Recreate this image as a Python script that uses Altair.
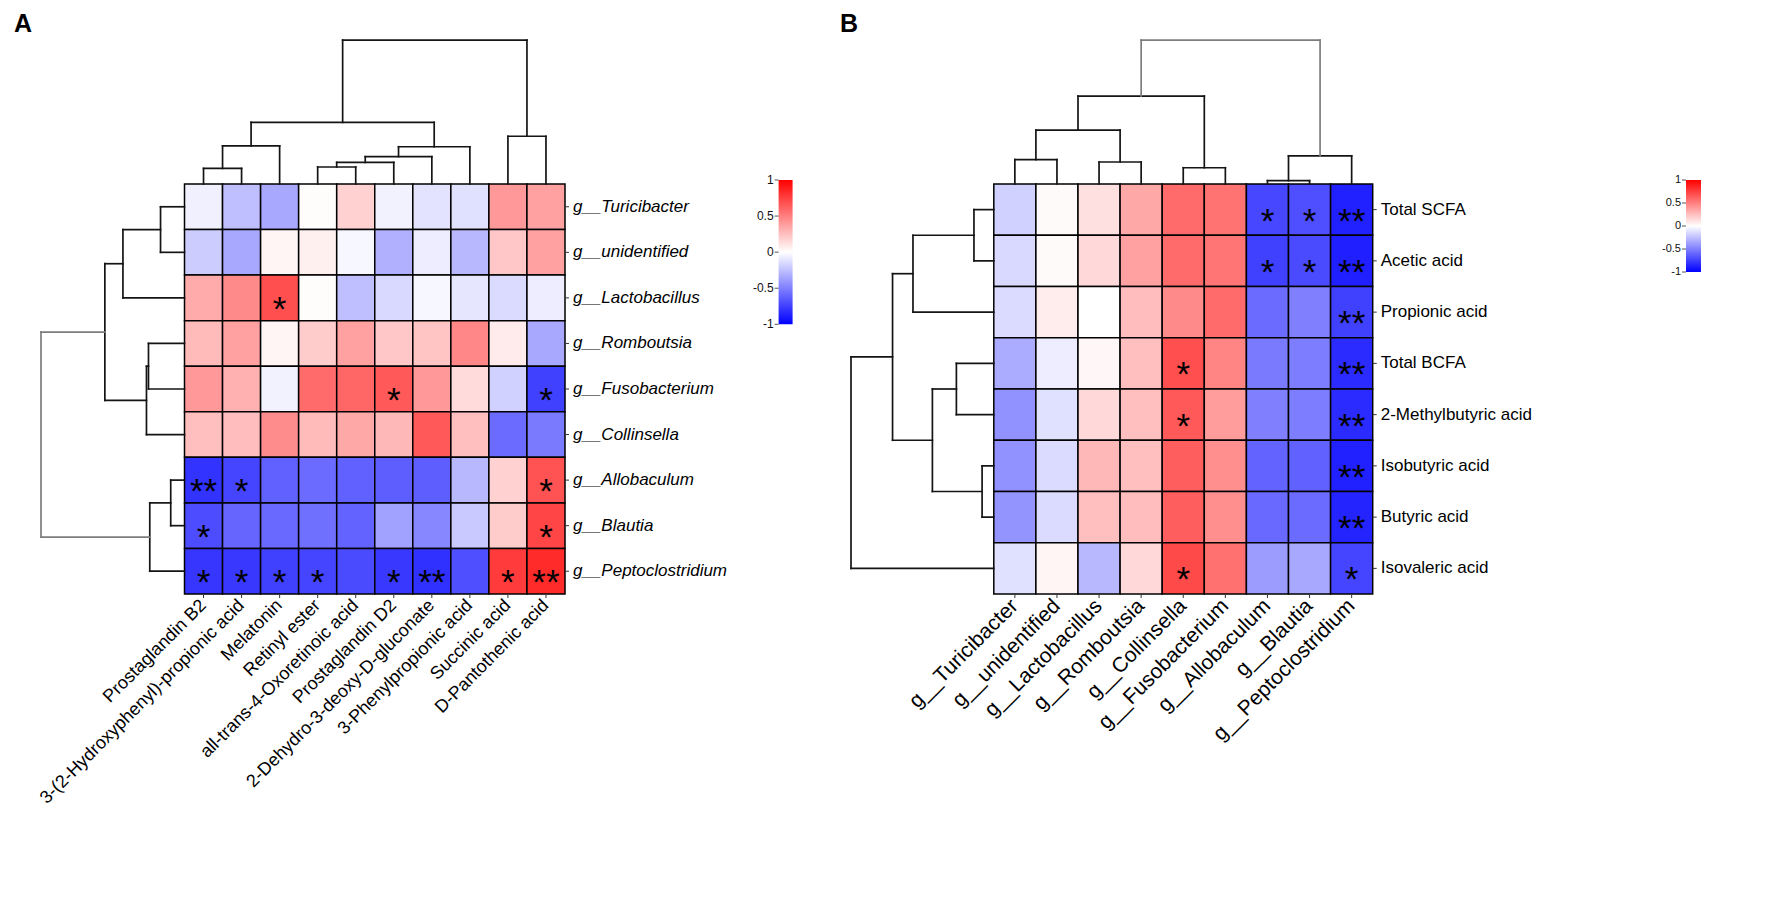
import altair as alt
import pandas as pd

FONT = "Liberation Sans"

# ---------------- data ----------------
A_cols = ["Prostaglandin B2", "3-(2-Hydroxyphenyl)-propionic acid", "Melatonin", "Retinyl ester",
          "all-trans-4-Oxoretinoic acid", "Prostaglandin D2", "2-Dehydro-3-deoxy-D-gluconate",
          "3-Phenylpropionic acid", "Succinic acid", "D-Pantothenic acid"]
A_rows = ["g__Turicibacter", "g__unidentified", "g__Lactobacillus", "g__Romboutsia",
          "g__Fusobacterium", "g__Collinsella", "g__Allobaculum", "g__Blautia",
          "g__Peptoclostridium"]
A_vals = [
    [-0.06, -0.25, -0.34, 0.01, 0.18, -0.05, -0.11, -0.12, 0.40, 0.37],
    [-0.20, -0.34, 0.04, 0.06, -0.03, -0.31, -0.07, -0.28, 0.22, 0.37],
    [0.33, 0.46, 0.69, 0.01, -0.25, -0.15, -0.03, -0.10, -0.14, -0.07],
    [0.27, 0.37, 0.04, 0.20, 0.37, 0.22, 0.23, 0.47, 0.08, -0.34],
    [0.40, 0.31, -0.05, 0.58, 0.60, 0.65, 0.40, 0.14, -0.18, -0.75],
    [0.25, 0.26, 0.45, 0.27, 0.34, 0.28, 0.65, 0.25, -0.58, -0.52],
    [-0.80, -0.73, -0.62, -0.58, -0.62, -0.63, -0.63, -0.28, 0.18, 0.68],
    [-0.70, -0.60, -0.59, -0.56, -0.61, -0.37, -0.47, -0.21, 0.20, 0.73],
    [-0.79, -0.78, -0.75, -0.73, -0.71, -0.78, -0.81, -0.69, 0.77, 0.83],
]
A_stars = [
    ["", "", "", "", "", "", "", "", "", ""],
    ["", "", "", "", "", "", "", "", "", ""],
    ["", "", "*", "", "", "", "", "", "", ""],
    ["", "", "", "", "", "", "", "", "", ""],
    ["", "", "", "", "", "*", "", "", "", "*"],
    ["", "", "", "", "", "", "", "", "", ""],
    ["**", "*", "", "", "", "", "", "", "", "*"],
    ["*", "", "", "", "", "", "", "", "", "*"],
    ["*", "*", "*", "*", "", "*", "**", "", "*", "**"],
]
# linkage: (child a, child b, distance); leaves are 0..n-1, merged clusters n, n+1, ...
A_col_merges = [(0, 1, 0.108), (10, 2, 0.265), (3, 4, 0.118), (12, 5, 0.150), (13, 6, 0.190),
                (14, 7, 0.259), (11, 15, 0.428), (8, 9, 0.332), (16, 17, 1.0)]
A_row_merges = [(0, 1, 0.167), (9, 2, 0.429), (3, 4, 0.251), (11, 5, 0.265), (10, 12, 0.555),
                (6, 7, 0.096), (14, 8, 0.242), (13, 15, 1.0)]

B_cols = ["g__Turicibacter", "g__unidentified", "g__Lactobacillus", "g__Romboutsia",
          "g__Collinsella", "g__Fusobacterium", "g__Allobaculum", "g__Blautia",
          "g__Peptoclostridium"]
B_rows = ["Total SCFA", "Acetic acid", "Propionic acid", "Total BCFA", "2-Methylbutyric acid",
          "Isobutyric acid", "Butyric acid", "Isovaleric acid"]
B_vals = [
    [-0.18, 0.02, 0.12, 0.34, 0.58, 0.55, -0.72, -0.69, -0.87],
    [-0.15, 0.02, 0.15, 0.37, 0.58, 0.54, -0.75, -0.71, -0.88],
    [-0.14, 0.07, 0.00, 0.26, 0.46, 0.58, -0.58, -0.50, -0.75],
    [-0.33, -0.07, 0.03, 0.25, 0.69, 0.48, -0.52, -0.51, -0.83],
    [-0.43, -0.12, 0.15, 0.25, 0.65, 0.39, -0.50, -0.51, -0.83],
    [-0.43, -0.14, 0.28, 0.25, 0.63, 0.44, -0.61, -0.62, -0.87],
    [-0.42, -0.14, 0.25, 0.26, 0.63, 0.44, -0.59, -0.58, -0.86],
    [-0.12, 0.04, -0.28, 0.15, 0.71, 0.56, -0.39, -0.34, -0.73],
]
B_stars = [
    ["", "", "", "", "", "", "*", "*", "**"],
    ["", "", "", "", "", "", "*", "*", "**"],
    ["", "", "", "", "", "", "", "", "**"],
    ["", "", "", "", "*", "", "", "", "**"],
    ["", "", "", "", "*", "", "", "", "**"],
    ["", "", "", "", "", "", "", "", "**"],
    ["", "", "", "", "", "", "", "", "**"],
    ["", "", "", "", "*", "", "", "", "*"],
]
B_col_merges = [(0, 1, 0.170), (2, 3, 0.153), (9, 10, 0.375), (4, 5, 0.113), (11, 12, 0.611),
                (6, 7, 0.023), (14, 8, 0.196), (13, 15, 1.0)]
B_row_merges = [(0, 1, 0.139), (8, 2, 0.566), (3, 4, 0.262), (5, 6, 0.082), (10, 11, 0.430),
                (9, 12, 0.709), (13, 7, 1.0)]

cbar_ticks = [1, 0.5, 0, -0.5, -1]
cbar_labels = ["1", "0.5", "0", "-0.5", "-1"]

# ---------------- layout (pixels in the chart) ----------------
W, H = 1764, 904
HEAT_Y = [176.0, 586.0]
CSCALE = alt.Scale(domain=[-1, 0, 1], range=["#0000ff", "#ffffff", "#ff0000"], interpolate="rgb")
GRAD = alt.LinearGradient(
    gradient="linear", x1=0, y1=0, x2=0, y2=1,
    stops=[alt.GradientStop(color="#ff0000", offset=0),
           alt.GradientStop(color="#ffffff", offset=0.5),
           alt.GradientStop(color="#0000ff", offset=1)])
LINE = "#141414"
GRAY = "#7d7d7d"


def heat_layer(cols, rows, vals, stars, xr, row_style, row_fs, col_fs):
    cells = pd.DataFrame([{"row": r, "col": c, "v": vals[i][j], "star": stars[i][j]}
                          for i, r in enumerate(rows) for j, c in enumerate(cols)])
    xs = alt.Scale(type="band", domain=cols, range=xr, paddingInner=0, paddingOuter=0)
    ys = alt.Scale(type="band", domain=rows, range=HEAT_Y, paddingInner=0, paddingOuter=0)
    X = alt.X("col:N", scale=xs, axis=None)
    Y = alt.Y("row:N", scale=ys, axis=None)
    rect = alt.Chart(cells).mark_rect(stroke="black", strokeWidth=1.5).encode(
        x=X, y=Y, color=alt.Color("v:Q", scale=CSCALE, legend=None))
    star = alt.Chart(cells[cells.star != ""]).mark_text(
        font=FONT, fontSize=35, baseline="alphabetic", dy=23, color="black").encode(
        x=X, y=Y, text="star:N")
    rdf = pd.DataFrame({"row": rows})
    cdf = pd.DataFrame({"col": cols})
    rowlab = alt.Chart(rdf).mark_text(
        font=FONT, fontSize=row_fs, align="left", baseline="middle", fontStyle=row_style,
        color="black").encode(y=Y, x=alt.value(xr[1] + 8), text="row:N")
    rowtick = alt.Chart(rdf).mark_rule(color="#333333", strokeWidth=1).encode(
        y=Y, x=alt.value(xr[1]), x2=alt.value(xr[1] + 4))
    collab = alt.Chart(cdf).mark_text(
        font=FONT, fontSize=col_fs, align="right", baseline="middle", angle=315,
        color="black").encode(x=X, y=alt.value(HEAT_Y[1] + 9), text="col:N")
    coltick = alt.Chart(cdf).mark_rule(color="#333333", strokeWidth=1).encode(
        x=X, y=alt.value(HEAT_Y[1]), y2=alt.value(HEAT_Y[1] + 4))
    return alt.layer(rect, star, rowlab, rowtick, collab, coltick)


def dendro_segments(n, merges, gray_root):
    pos = {i: i + 0.5 for i in range(n)}
    hgt = {i: 0.0 for i in range(n)}
    segs = []
    for k, (a, b, h) in enumerate(merges):
        root = gray_root and (k == len(merges) - 1)
        segs.append(dict(p1=pos[a], p2=pos[b], h1=h, h2=h, root=root))
        segs.append(dict(p1=pos[a], p2=pos[a], h1=hgt[a], h2=h, root=root))
        segs.append(dict(p1=pos[b], p2=pos[b], h1=hgt[b], h2=h, root=root))
        pos[n + k] = (pos[a] + pos[b]) / 2
        hgt[n + k] = h
    return pd.DataFrame(segs)


def top_dendro(n, merges, xr, root_y, gray_root):
    df = dendro_segments(n, merges, gray_root)
    return alt.Chart(df).mark_rule(strokeWidth=1.7, strokeCap="square").encode(
        x=alt.X("p1:Q", scale=alt.Scale(domain=[0, n], range=xr, nice=False, zero=False), axis=None),
        x2="p2:Q",
        y=alt.Y("h1:Q", scale=alt.Scale(domain=[0, 1], range=[HEAT_Y[0], root_y], nice=False,
                                        zero=False), axis=None),
        y2="h2:Q",
        color=alt.condition("datum.root", alt.value(GRAY), alt.value(LINE)))


def left_dendro(n, merges, x0, root_x, gray_root):
    df = dendro_segments(n, merges, gray_root)
    return alt.Chart(df).mark_rule(strokeWidth=1.7, strokeCap="square").encode(
        y=alt.Y("p1:Q", scale=alt.Scale(domain=[0, n], range=HEAT_Y, nice=False, zero=False), axis=None),
        y2="p2:Q",
        x=alt.X("h1:Q", scale=alt.Scale(domain=[0, 1], range=[x0, root_x], nice=False,
                                        zero=False), axis=None),
        x2="h2:Q",
        color=alt.condition("datum.root", alt.value(GRAY), alt.value(LINE)))


def colorbar(cx, cy, fs):
    ys = alt.Scale(domain=[-1, 1], range=[cy[1], cy[0]], nice=False, zero=False)
    bar = alt.Chart(pd.DataFrame({"lo": [-1], "hi": [1]})).mark_rect(color=GRAD).encode(
        y=alt.Y("lo:Q", scale=ys, axis=None), y2="hi:Q",
        x=alt.value(cx[0]), x2=alt.value(cx[1]))
    tdf = pd.DataFrame({"v": cbar_ticks, "lab": cbar_labels})
    tick = alt.Chart(tdf).mark_rule(color="#555555", strokeWidth=1).encode(
        y=alt.Y("v:Q", scale=ys, axis=None), x=alt.value(cx[0] - 4), x2=alt.value(cx[0]))
    lab = alt.Chart(tdf).mark_text(font=FONT, fontSize=fs, align="right", baseline="middle",
                                   color="#111111").encode(
        y=alt.Y("v:Q", scale=ys, axis=None), x=alt.value(cx[0] - 5), text="lab:N")
    return alt.layer(bar, tick, lab)


def letter(t, x, y):
    return alt.Chart(pd.DataFrame({"t": [t]})).mark_text(
        font=FONT, fontSize=25, fontWeight="bold", align="left", baseline="alphabetic",
        color="black").encode(x=alt.value(x), y=alt.value(y), text="t:N")


A_X = [176.5, 557.0]
B_X = [985.8, 1364.7]

layers = [
    heat_layer(A_cols, A_rows, A_vals, A_stars, A_X, "italic", 17, 18),
    top_dendro(len(A_cols), A_col_merges, A_X, 32.1, False),
    left_dendro(len(A_rows), A_row_merges, A_X[0], 33.0, True),
    colorbar([770.6, 784.6], [172.0, 316.3], 12),
    letter("A", 6, 24),
    heat_layer(B_cols, B_rows, B_vals, B_stars, B_X, "normal", 17, 21),
    top_dendro(len(B_cols), B_col_merges, B_X, 32.1, True),
    left_dendro(len(B_rows), B_row_merges, B_X[0], 843.0, False),
    colorbar([1678.0, 1693.0], [172.0, 264.0], 11),
    letter("B", 832, 24),
]

chart = alt.layer(*layers).resolve_scale(
    x="independent", y="independent", color="independent"
).properties(
    width=W, height=H, padding=0, background="white",
    autosize=alt.AutoSizeParams(type="none")
).configure_view(stroke="transparent", strokeWidth=0)

chart.save("out.html", embed_options={"renderer": "svg", "actions": False})
